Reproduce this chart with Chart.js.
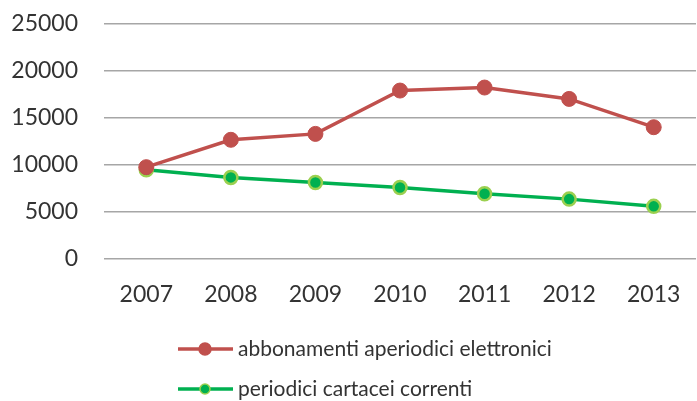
<!DOCTYPE html>
<html>
<head>
<meta charset="utf-8">
<script src="https://cdn.jsdelivr.net/npm/chart.js@4"></script>
<style>
  html, body { margin: 0; padding: 0; background: #fff; overflow: hidden; }
  #wrap { width: 697px; height: 401px; overflow: hidden; position: relative; }
  canvas { display: block; }
</style>
</head>
<body>
<div id="wrap"><canvas id="chart" width="705" height="401"></canvas></div>
<script>
const years = ["2007", "2008", "2009", "2010", "2011", "2012", "2013"];
const seriesNames = ["abbonamenti aperiodici elettronici", "periodici cartacei correnti"];
const electronic = [9770, 12680, 13310, 17920, 18240, 17030, 14020];
const paper = [9490, 8680, 8140, 7610, 6940, 6370, 5600];
const yTicks = [0, 5000, 10000, 15000, 20000, 25000];

const textColor = "#333333";
const fontFamily = "Lato, 'Open Sans', sans-serif";

// legend drawn below the x labels, stacked like the original
const legendBelow = {
  id: "legendBelow",
  afterDraw(chart) {
    const c = chart.ctx;
    const rows = [349, 389];
    const dots = [6, 5];
    chart.data.datasets.forEach((ds, i) => {
      const y = rows[i];
      c.save();
      c.strokeStyle = ds.borderColor;
      c.lineWidth = 3.5;
      c.beginPath();
      c.moveTo(178, y);
      c.lineTo(233, y);
      c.stroke();
      c.beginPath();
      c.arc(205, y, dots[i], 0, Math.PI * 2);
      c.fillStyle = ds.pointBackgroundColor;
      c.fill();
      c.lineWidth = 1.5;
      c.strokeStyle = ds.pointBorderColor;
      c.stroke();
      c.fillStyle = textColor;
      c.font = "21px " + fontFamily;
      c.textBaseline = "middle";
      c.fillText(ds.label, 238, y);
      c.restore();
    });
  }
};

const chart = new Chart(document.getElementById("chart"), {
  type: "line",
  data: {
    labels: years,
    datasets: [
      {
        label: seriesNames[0],
        data: electronic,
        borderColor: "#c0504d",
        borderWidth: 3.5,
        pointRadius: 7.5,
        pointBackgroundColor: "#c0504d",
        pointBorderColor: "#c0504d",
        pointBorderWidth: 1,
        tension: 0
      },
      {
        label: seriesNames[1],
        data: paper,
        borderColor: "#00b050",
        borderWidth: 3.5,
        pointRadius: 6.5,
        pointBackgroundColor: "#00b050",
        pointBorderColor: "#9bd04f",
        pointBorderWidth: 2.5,
        tension: 0
      }
    ]
  },
  options: {
    responsive: false,
    animation: false,
    layout: { padding: { top: 24, right: 0, bottom: 0, left: 0 } },
    plugins: { legend: { display: false }, tooltip: { enabled: false } },
    scales: {
      x: {
        offset: true,
        grid: { display: false, drawTicks: false },
        border: { display: false },
        ticks: { color: textColor, font: { family: fontFamily, size: 23 }, padding: 22 },
        afterFit(s) {
          s.height = 142;
          s.paddingLeft = 0;
          s.paddingRight = 0;
        }
      },
      y: {
        min: 0,
        max: 25000,
        afterBuildTicks(s) { s.ticks = yTicks.map(v => ({ value: v })); },
        grid: { color: "#a6a6a6", lineWidth: 1.5, drawTicks: false },
        border: { display: false },
        ticks: {
          color: textColor,
          font: { family: fontFamily, size: 23 },
          padding: 26,
          callback: (v) => String(v)
        },
        afterFit(s) {
          s.width = 104;
          s.paddingTop = 0;
          s.paddingBottom = 0;
        }
      }
    }
  },
  plugins: [legendBelow]
});
console.log(JSON.stringify(chart.chartArea));
</script>
</body>
</html>
